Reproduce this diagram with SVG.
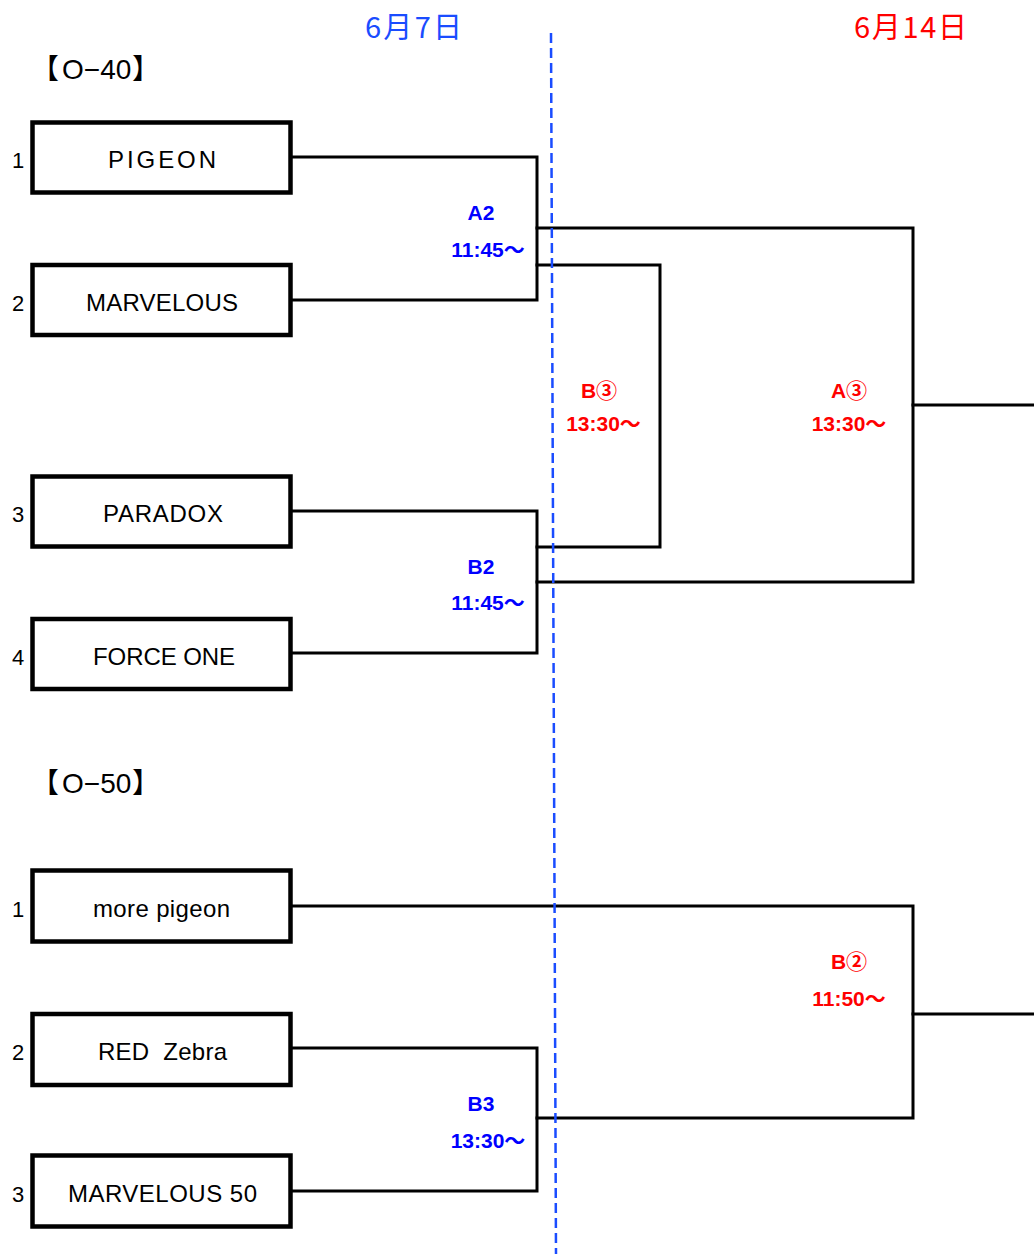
<svg xmlns="http://www.w3.org/2000/svg" width="1034" height="1254" viewBox="0 0 1034 1254">
<style>
.box{fill:#ffffff;stroke:#000000;stroke-width:4.5}
.name{font-family:"Liberation Sans","Noto Sans CJK JP",sans-serif;font-size:24px;fill:#000000;text-anchor:middle}
.num{font-family:"Liberation Sans","Noto Sans CJK JP",sans-serif;font-size:22px;fill:#000000}
.head{font-family:"Liberation Sans","Noto Sans CJK JP",sans-serif;font-size:28px;fill:#000000}
.conn{fill:none;stroke:#000000;stroke-width:3;stroke-linecap:square}
.lb{font-family:"Liberation Sans","Noto Sans CJK JP",sans-serif;font-size:21px;font-weight:bold;fill:#0000ff;text-anchor:middle}
.lr{font-family:"Liberation Sans","Noto Sans CJK JP",sans-serif;font-size:21px;font-weight:bold;fill:#ff0000;text-anchor:middle}
.date{font-family:"Noto Sans CJK JP",sans-serif;font-size:29px}
.divider{stroke:#1a4cff;stroke-width:2.5;stroke-dasharray:10 5;fill:none}
</style>

<g id="dates">
<text class="date" x="365" y="38" fill="#1a4cff" textLength="97">6月7日</text>
<text class="date" x="854" y="38" fill="#ff0000" textLength="113">6月14日</text>
</g>

<g id="headings">
<text class="head" y="79"><tspan x="31">【</tspan><tspan x="62">O−40</tspan><tspan x="132">】</tspan></text>
<text class="head" y="793"><tspan x="31">【</tspan><tspan x="62">O−50</tspan><tspan x="132">】</tspan></text>
</g>

<g id="connectors">
<polyline class="conn" points="293,157 537,157 537,300 293,300"/>
<polyline class="conn" points="537,228 913,228 913,582 537,582"/>
<polyline class="conn" points="537,265 660,265 660,547 537,547"/>
<polyline class="conn" points="293,511 537,511 537,653 293,653"/>
<line class="conn" x1="913" y1="405" x2="1036" y2="405"/>
<polyline class="conn" points="293,906 913,906 913,1118 537,1118"/>
<polyline class="conn" points="293,1048 537,1048 537,1191 293,1191"/>
<line class="conn" x1="913" y1="1014" x2="1036" y2="1014"/>
</g>

<g id="team-o40-1">
<rect class="box" x="32.5" y="122.5" width="258" height="70"/>
<text class="num" x="12" y="168">1</text>
<text class="name" x="162" y="168" textLength="108">PIGEON</text>
</g>
<g id="team-o40-2">
<rect class="box" x="32.5" y="265" width="258" height="70"/>
<text class="num" x="12" y="311">2</text>
<text class="name" x="162" y="311" textLength="152">MARVELOUS</text>
</g>
<g id="team-o40-3">
<rect class="box" x="32.5" y="476.5" width="258" height="70"/>
<text class="num" x="12" y="522">3</text>
<text class="name" x="163" y="522" textLength="120">PARADOX</text>
</g>
<g id="team-o40-4">
<rect class="box" x="32.5" y="619" width="258" height="70"/>
<text class="num" x="12" y="665">4</text>
<text class="name" x="164" y="665" textLength="142">FORCE ONE</text>
</g>

<g id="team-o50-1">
<rect class="box" x="32.5" y="870.5" width="258" height="71"/>
<text class="num" x="12" y="917">1</text>
<text class="name" x="161.5" y="917" textLength="137">more pigeon</text>
</g>
<g id="team-o50-2">
<rect class="box" x="32.5" y="1014" width="258" height="71"/>
<text class="num" x="12" y="1060">2</text>
<text class="name" x="162.5" y="1060" textLength="129" xml:space="preserve">RED  Zebra</text>
</g>
<g id="team-o50-3">
<rect class="box" x="32.5" y="1155.5" width="258" height="71"/>
<text class="num" x="12" y="1202">3</text>
<text class="name" x="162.5" y="1202" textLength="189">MARVELOUS 50</text>
</g>

<g id="match-A2">
<text class="lb" x="481" y="220">A2</text>
<text class="lb" x="488" y="257">11:45〜</text>
</g>
<g id="match-B2">
<text class="lb" x="481" y="574">B2</text>
<text class="lb" x="488" y="610">11:45〜</text>
</g>
<g id="match-B3-circ">
<text class="lr" x="599" y="398">B③</text>
<text class="lr" x="603.5" y="431">13:30〜</text>
</g>
<g id="match-A3-circ">
<text class="lr" x="849" y="398">A③</text>
<text class="lr" x="849" y="431">13:30〜</text>
</g>
<g id="match-B3">
<text class="lb" x="481" y="1111">B3</text>
<text class="lb" x="488" y="1148">13:30〜</text>
</g>
<g id="match-B2-circ">
<text class="lr" x="849" y="969">B②</text>
<text class="lr" x="849" y="1006">11:50〜</text>
</g>

<g id="divider">
<line class="divider" x1="551" y1="33" x2="556" y2="1254"/>
</g>
</svg>
